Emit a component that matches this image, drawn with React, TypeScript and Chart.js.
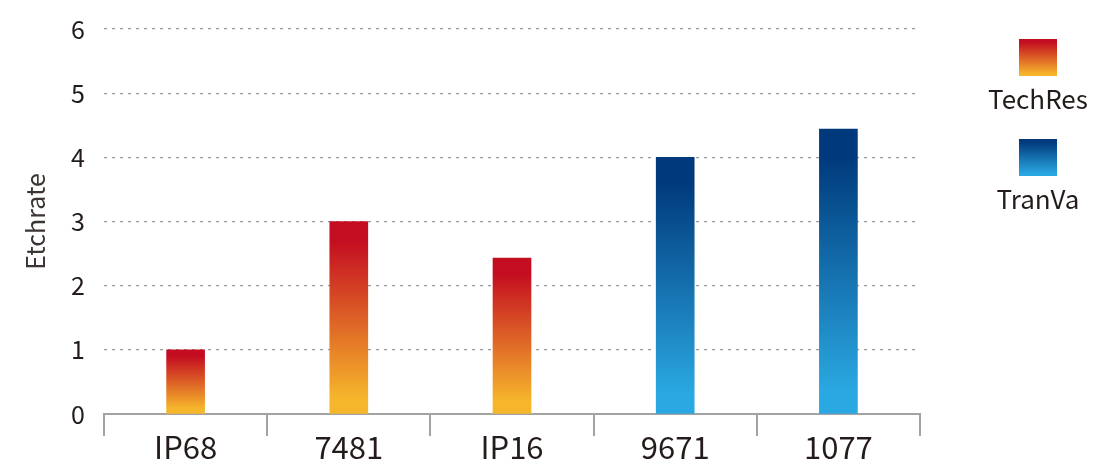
import React, { useEffect, useRef } from "react";
import { Chart, registerables } from "chart.js";

Chart.register(...registerables);

const categories = ["IP68", "7481", "IP16", "9671", "1077"];
const techResValues = [1.0, 3.0, 2.43, null, null];
const tranVaValues = [null, null, null, 4.0, 4.44];
const yTicks = [0, 1, 2, 3, 4, 5, 6];
const seriesNames = ["TechRes", "TranVa"];

const FONT = "'Noto Sans CJK SC', 'Noto Sans', sans-serif";
const TEXT = "#231c1a";

const RED = ["#c40d21", "#f6b62b"];
const BLUE = ["#003a7c", "#2aa8e1"];

function barGradient(colors: string[]) {
  return (ctx: any) => {
    const chart = ctx.chart;
    if (!chart.chartArea || ctx.type !== "data" || ctx.raw == null) return colors[1];
    const y = chart.scales.y;
    const top = y.getPixelForValue(ctx.raw);
    const bot = y.getPixelForValue(0);
    if (!isFinite(top) || !isFinite(bot) || top === bot) return colors[1];
    const g = chart.ctx.createLinearGradient(0, top, 0, bot);
    g.addColorStop(0, colors[0]);
    g.addColorStop(0.1, colors[0]);
    g.addColorStop(0.92, colors[1]);
    g.addColorStop(1, colors[1]);
    return g;
  };
}

export default function App() {
  const ref = useRef<HTMLCanvasElement | null>(null);

  useEffect(() => {
    if (!ref.current) return;
    const chart = new Chart(ref.current, {
      type: "bar",
      data: {
        labels: categories,
        datasets: [
          {
            label: seriesNames[0],
            data: techResValues as any,
            backgroundColor: barGradient(RED) as any,
            barThickness: 38,
            skipNull: true,
          } as any,
          {
            label: seriesNames[1],
            data: tranVaValues as any,
            backgroundColor: barGradient(BLUE) as any,
            barThickness: 38,
            skipNull: true,
          } as any,
        ],
      },
      options: {
        animation: false,
        responsive: false,
        maintainAspectRatio: false,
        layout: { padding: { top: 0, right: 20, left: 0, bottom: 0 } },
        plugins: {
          legend: { display: false },
          tooltip: { enabled: false },
        },
        scales: {
          x: {
            offset: true,
            grid: {
              display: true,
              drawOnChartArea: false,
              drawTicks: true,
              tickLength: 22,
              color: "#a3a3a3",
              lineWidth: 2,
            },
            border: { display: true, color: "#a3a3a3", width: 2 },
            ticks: {
              color: TEXT,
              font: { family: FONT, size: 31 },
              padding: -7,
            },
            afterFit: (s: any) => {
              s.height = 48;
            },
          },
          y: {
            min: 0,
            max: 6,
            afterBuildTicks: (s: any) => {
              s.ticks = yTicks.map((v) => ({ value: v }));
            },
            grid: {
              color: "#9a9a9a",
              lineWidth: 1.2,
              drawTicks: false,
            },
            border: { display: false, dash: [3, 5] },
            ticks: {
              color: TEXT,
              font: { family: FONT, size: 25, lineHeight: 0.8 },
              padding: 19,
            },
            title: {
              display: true,
              text: "Etchrate",
              color: "#3a3432",
              font: { family: FONT, size: 25 },
              padding: { top: 20, bottom: 0 },
            },
            afterFit: (s: any) => {
              s.width = 104;
            },
          },
        },
      },
    });
    return () => chart.destroy();
  }, []);

  const legendItem = (name: string, colors: string[], top: number) => (
    <div
      key={name}
      style={{
        position: "absolute",
        left: 968,
        top,
        width: 140,
        display: "flex",
        flexDirection: "column",
        alignItems: "center",
      }}
    >
      <div
        style={{
          width: 38,
          height: 37,
          background: `linear-gradient(to bottom, ${colors[0]} 0%, ${colors[0]} 8%, ${colors[1]} 95%)`,
        }}
      />
      <div
        style={{
          fontFamily: FONT,
          fontSize: 26,
          color: TEXT,
          marginTop: 7,
          lineHeight: "30px",
          whiteSpace: "nowrap",
        }}
      >
        {name}
      </div>
    </div>
  );

  return (
    <div style={{ position: "fixed", left: 0, top: 0, width: 1093, height: 462, background: "#fff" }}>
      <canvas ref={ref} width={940} height={462} style={{ position: "absolute", left: 0, top: 0 }} />
      {legendItem(seriesNames[0], RED, 39)}
      {legendItem(seriesNames[1], BLUE, 139)}
    </div>
  );
}
